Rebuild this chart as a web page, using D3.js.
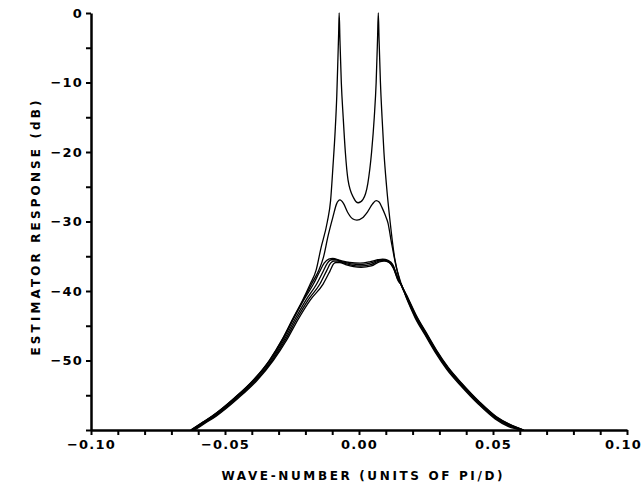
<!DOCTYPE html>
<html>
<head>
<meta charset="utf-8">
<script src="https://cdn.jsdelivr.net/npm/d3@7"></script>
<style>
  body { margin: 0; background: #fff; }
  svg { display: block; }
  .curve { fill: none; stroke: #000; stroke-width: 1.3; }
  .axis path, .axis line { stroke: #000; }
  .axis text { font-family: "DejaVu Sans", sans-serif; font-weight: bold; fill: #000; }
</style>
</head>
<body>
<svg width="644" height="489"></svg>
<script>
// tick values and labels
const xMajor = [-0.10, -0.05, 0.00, 0.05, 0.10]
const xLabels = ['\u22120.10', '\u22120.05', '0.00', '0.05', '0.10']
const xMinor = [-0.09, -0.08, -0.07, -0.06, -0.04, -0.03, -0.02, -0.01, 0.01, 0.02, 0.03, 0.04, 0.06, 0.07, 0.08, 0.09]
const yMajor = [0, -10, -20, -30, -40, -50]
const yLabels = ['0', '\u221210', '\u221220', '\u221230', '\u221240', '\u221250']
const yMinor = [-5, -15, -25, -35, -45, -55, -60]

// estimator responses: [wave-number, dB]
const curveA = [[-0.0628,-60],[-0.0588,-59],[-0.0548,-58],[-0.0465,-55.4],[-0.0394,-52.8],[-0.0335,-50],[-0.0287,-47],[-0.0247,-44],[-0.0210,-41.3],[-0.0182,-39],[-0.0160,-37],[-0.0143,-34],[-0.0118,-30],[-0.0106,-27],[-0.0097,-22],[-0.0089,-17],[-0.0083,-12],[-0.0079,-7],[-0.0076,-3],[-0.0074,0],[-0.0071,-4],[-0.0066,-10],[-0.0059,-15],[-0.0051,-20],[-0.0041,-24],[-0.0020,-26.6],[-0.0003,-27.3],[0.0015,-26.8],[0.0033,-24.5],[0.0047,-20],[0.0057,-15],[0.0064,-10],[0.0069,-4],[0.0072,0],[0.0075,-4],[0.0080,-10],[0.0086,-15],[0.0093,-20],[0.0103,-25],[0.0116,-30],[0.0134,-35.5],[0.0156,-38.8],[0.0183,-41],[0.0215,-43.6],[0.0251,-46],[0.0289,-48.5],[0.0333,-51],[0.0384,-53.3],[0.0451,-56],[0.0513,-58.1],[0.0563,-59.2],[0.0615,-60]]
const curveB = [[-0.0627,-60],[-0.0587,-59],[-0.0547,-58],[-0.0464,-55.4],[-0.0393,-52.8],[-0.0334,-50],[-0.0286,-47],[-0.0246,-44],[-0.0208,-41.3],[-0.0177,-39],[-0.0150,-37],[-0.0133,-35.2],[-0.0115,-32],[-0.0097,-29.3],[-0.0084,-27.5],[-0.0071,-26.9],[-0.0058,-27.4],[-0.0042,-28.7],[-0.0024,-29.6],[-0.0008,-29.8],[0.0012,-29.5],[0.0032,-28.6],[0.0050,-27.5],[0.0064,-27.0],[0.0075,-27.2],[0.0086,-28.0],[0.0097,-29.0],[0.0108,-30.2],[0.0121,-33],[0.0137,-36.2],[0.0155,-38.9],[0.0182,-41.1],[0.0214,-43.7],[0.0250,-46.1],[0.0288,-48.6],[0.0332,-51.1],[0.0383,-53.4],[0.0450,-56.1],[0.0512,-58.2],[0.0562,-59.3],[0.0614,-60]]
const curveF1 = [[-0.0625,-60],[-0.0585,-59],[-0.0545,-58],[-0.0462,-55.4],[-0.0391,-52.8],[-0.0332,-50],[-0.0284,-47],[-0.0244,-44],[-0.0206,-41.3],[-0.0170,-39],[-0.0148,-37.3],[-0.0130,-36],[-0.0113,-35.4],[-0.0098,-35.3],[-0.0070,-35.6],[-0.0035,-35.9],[0.0004,-36.0],[0.0040,-35.8],[0.0070,-35.5],[0.0088,-35.4],[0.0108,-35.6],[0.0126,-36.2],[0.0144,-38.0],[0.0154,-38.8],[0.0181,-41],[0.0213,-43.6],[0.0249,-46],[0.0287,-48.5],[0.0331,-51],[0.0382,-53.3],[0.0449,-56],[0.0511,-58.1],[0.0561,-59.2],[0.0613,-60]]
const curveF2 = [[-0.0621,-60],[-0.0581,-59],[-0.0541,-58],[-0.0458,-55.4],[-0.0387,-52.8],[-0.0328,-50],[-0.0279,-47],[-0.0238,-44],[-0.0198,-41.3],[-0.0158,-39],[-0.0134,-37.2],[-0.0118,-36],[-0.0103,-35.5],[-0.0088,-35.5],[-0.0062,-35.8],[-0.0030,-36.1],[0.0005,-36.2],[0.0042,-36.0],[0.0072,-35.6],[0.0090,-35.5],[0.0110,-35.7],[0.0127,-36.4],[0.0145,-38.2],[0.0155,-38.9],[0.0181,-41.1],[0.0212,-43.7],[0.0248,-46.1],[0.0286,-48.6],[0.0330,-51.1],[0.0381,-53.4],[0.0448,-56.1],[0.0510,-58.2],[0.0560,-59.3],[0.0612,-60]]
const curveF3 = [[-0.0617,-60],[-0.0577,-59],[-0.0537,-58],[-0.0454,-55.4],[-0.0383,-52.8],[-0.0324,-50],[-0.0274,-47],[-0.0232,-44],[-0.0190,-41.3],[-0.0146,-39],[-0.0121,-37.1],[-0.0106,-36],[-0.0094,-35.7],[-0.0080,-35.7],[-0.0055,-36.0],[-0.0025,-36.3],[0.0006,-36.4],[0.0044,-36.2],[0.0074,-35.7],[0.0092,-35.6],[0.0111,-35.8],[0.0128,-36.6],[0.0146,-38.4],[0.0156,-39.0],[0.0180,-41.2],[0.0211,-43.8],[0.0247,-46.2],[0.0285,-48.7],[0.0329,-51.2],[0.0380,-53.5],[0.0447,-56.2],[0.0509,-58.3],[0.0559,-59.4],[0.0611,-60]]
const curveF4 = [[-0.0613,-60],[-0.0573,-59],[-0.0533,-58],[-0.0450,-55.4],[-0.0379,-52.8],[-0.0320,-50],[-0.0269,-47],[-0.0226,-44],[-0.0182,-41.3],[-0.0134,-39],[-0.0108,-37.1],[-0.0095,-36.1],[-0.0086,-35.9],[-0.0072,-35.9],[-0.0050,-36.2],[-0.0020,-36.5],[0.0008,-36.6],[0.0046,-36.4],[0.0076,-35.8],[0.0094,-35.7],[0.0112,-35.9],[0.0129,-36.8],[0.0147,-38.6],[0.0157,-39.1],[0.0180,-41.3],[0.0210,-43.9],[0.0246,-46.3],[0.0284,-48.8],[0.0328,-51.3],[0.0379,-53.6],[0.0446,-56.3],[0.0508,-58.4],[0.0558,-59.5],[0.0610,-60]]

const curves = [curveA, curveB, curveF1, curveF2, curveF3, curveF4]

const svg = d3.select('svg')
const x = d3.scaleLinear([-0.1, 0.1], [91, 627])
const y = d3.scaleLinear([-60, 0], [430, 13])

// curves
const line = d3.line()
    .x(d => x(d[0]))
    .y(d => y(d[1]))
    .curve(d3.curveMonotoneX)

svg.append('g').selectAll('path').data(curves).enter()
    .append('path')
    .attr('class', 'curve')
    .attr('d', line)

// x axis
const gx = svg.append('g').attr('class', 'axis')
    .attr('transform', `translate(0,${y(-60)})`)
gx.call(d3.axisBottom(x).tickValues(xMinor).tickSize(5).tickFormat(''))
    .call(g => g.select('.domain').remove())
gx.append('g')
    .call(d3.axisBottom(x).tickValues(xMajor).tickSize(5).tickSizeOuter(0)
        .tickFormat((d, i) => xLabels[i]))
    .call(g => g.select('.domain').attr('stroke-width', 2.5))
    .call(g => g.selectAll('text').attr('dy', null).attr('y', 19)
        .style('font-size', '13px').style('letter-spacing', '1.2px'))
    // last label sits at the right edge, nudge it in
    .call(g => g.selectAll('text').filter(d => d === 0.10).attr('dx', -4))
gx.selectAll('.tick line').attr('stroke-width', 2)

// y axis
const gy = svg.append('g').attr('class', 'axis')
    .attr('transform', `translate(${x(-0.1)},0)`)
gy.call(d3.axisLeft(y).tickValues(yMinor).tickSize(5).tickFormat(''))
    .call(g => g.select('.domain').remove())
gy.append('g')
    .call(d3.axisLeft(y).tickValues(yMajor).tickSize(5).tickSizeOuter(0)
        .tickFormat((d, i) => yLabels[i]))
    .call(g => g.select('.domain').attr('stroke-width', 2.5))
    .call(g => g.selectAll('text').attr('x', -8)
        .style('font-size', '13px').style('letter-spacing', '1.2px'))
gy.selectAll('.tick line').attr('stroke-width', 2)

// axis titles
svg.append('text')
    .attr('x', 362).attr('y', 480)
    .attr('text-anchor', 'middle')
    .attr('textLength', 281).attr('lengthAdjust', 'spacing')
    .style('font', 'bold 12px "DejaVu Sans", sans-serif')
    .text('WAVE-NUMBER (UNITS OF PI/D)')

svg.append('text')
    .attr('transform', 'translate(40,228) rotate(-90)')
    .attr('text-anchor', 'middle')
    .attr('textLength', 255).attr('lengthAdjust', 'spacing')
    .style('font', 'bold 12px "DejaVu Sans", sans-serif')
    .text('ESTIMATOR RESPONSE (dB)')
</script>
</body>
</html>
